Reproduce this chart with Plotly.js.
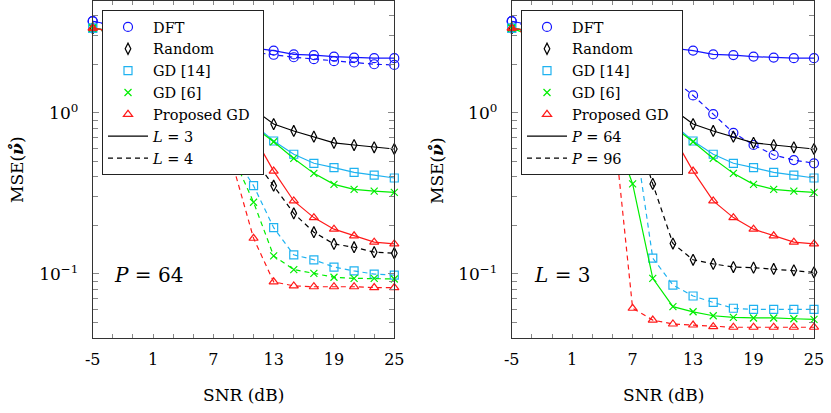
<!DOCTYPE html>
<html><head><meta charset="utf-8">
<script src="https://cdn.plot.ly/plotly-3.0.1.min.js"></script>
<style>html,body{margin:0;padding:0;background:#fff}#plot{width:831px;height:413px}</style>
</head><body><div id="plot"></div>
<script>
// SNR (dB)
const snr = [-5,-3,-1,1,3,5,7,9,11,13,15,17,19,21,23,25];
const xTickVals = [-5,1,7,13,19,25];
const xTickText = ['-5','1','7','13','19','25'];
const yTickVals = [0.1, 1];
const yTickText = ['10<sup>−1</sup>','10<sup>0</sup>'];
const yMinorVals = [0.05,0.06,0.07,0.08,0.09,0.2,0.3,0.4,0.5,0.6,0.7,0.8,0.9,2,3,4];

// P = 64, L = 3 (solid, shared by both panels)
const dftP64L3    = [3.7,3.5,3.3,3.1,2.95,2.8,2.7,2.6,2.52,2.43,2.30,2.28,2.23,2.20,2.18,2.18];
const randomP64L3 = [3.35,3.2,3.0,2.8,2.5,2.2,1.8,1.45,1.05,0.85,0.77,0.71,0.65,0.63,0.61,0.595];
const gd14P64L3   = [3.35,3.2,3.0,2.75,2.45,2.1,1.7,1.3,0.85,0.667,0.552,0.485,0.456,0.426,0.41,0.393];
const gd6P64L3    = [3.35,3.2,3.0,2.75,2.45,2.1,1.7,1.3,0.82,0.66,0.52,0.42,0.359,0.334,0.326,0.32];
const propP64L3   = [3.35,3.2,3.0,2.75,2.4,2.0,1.55,1.1,0.72,0.434,0.283,0.223,0.189,0.172,0.157,0.153];

// P = 64, L = 4 (dashed, left panel)
const dftL4    = [3.7,3.45,3.2,3.0,2.8,2.65,2.55,2.45,2.37,2.29,2.21,2.15,2.09,2.05,2.0,1.98];
const randomL4 = [3.35,3.1,2.8,2.4,2.0,1.6,1.2,0.8,0.52,0.352,0.237,0.181,0.153,0.146,0.136,0.134];
const gd14L4   = [3.35,3.1,2.8,2.4,1.95,1.5,1.05,0.55,0.352,0.193,0.131,0.122,0.11,0.104,0.0995,0.098];
const gd6L4    = [3.35,3.1,2.8,2.4,1.9,1.45,1.0,0.53,0.278,0.129,0.106,0.1005,0.095,0.0936,0.0936,0.0927];
const propL4   = [3.35,3.1,2.75,2.3,1.8,1.3,0.85,0.46,0.166,0.089,0.084,0.083,0.083,0.083,0.082,0.082];

// P = 96, L = 3 (right panel)
const dftP96    = [3.7,3.4,3.1,2.9,2.7,2.5,2.3,2.05,1.62,1.28,0.98,0.75,0.63,0.546,0.508,0.485];
const randomP96 = [3.35,3.1,2.8,2.5,2.1,1.6,0.9,0.361,0.154,0.122,0.115,0.11,0.109,0.107,0.105,0.102];
const gd14P96   = [3.35,3.1,2.8,2.4,1.9,1.4,0.9,0.125,0.085,0.0727,0.0663,0.061,0.060,0.060,0.060,0.060];
const gd6P96    = [3.35,3.0,2.6,2.1,1.5,0.8,0.361,0.0936,0.0624,0.058,0.0548,0.0536,0.0531,0.0531,0.0525,0.052];
const propP96   = [3.35,3.0,2.6,2.1,1.6,1.0,0.061,0.0515,0.0487,0.048,0.0469,0.0465,0.0465,0.0465,0.0465,0.0465];

const methods = ['DFT','Random','GD [14]','GD [6]','Proposed GD'];
const styles = {
  'DFT':        {color:'#1515ff', symbol:'circle-open', size:9},
  'Random':     {color:'#000000', symbol:'diamond-tall-open', size:8},
  'GD [14]':    {color:'#1fb2f0', symbol:'square-open', size:8},
  'GD [6]':     {color:'#00ee00', symbol:'x-thin-open', size:7},
  'Proposed GD':{color:'#ff1a1a', symbol:'triangle-up-open', size:8}
};
const DASH = '5px,4px';
const FONT = "DejaVu Serif";

function tr(name, y, dash, xa, ya){
  const s = styles[name];
  return {x:snr, y:y, type:'scatter', mode:'lines+markers', xaxis:xa, yaxis:ya,
    showlegend:false, cliponaxis:false, name:name,
    line:{color:s.color, width:1.2, dash:dash},
    marker:{symbol:s.symbol, size:s.size, color:s.color, line:{color:s.color, width:1.2}}};
}

const traces = [];
const leftSolid = [dftP64L3, randomP64L3, gd14P64L3, gd6P64L3, propP64L3];
const leftDash  = [dftL4, randomL4, gd14L4, gd6L4, propL4];
const rightDash = [dftP96, randomP96, gd14P96, gd6P96, propP96];
methods.forEach((m,i)=>{
  traces.push(tr(m, leftSolid[i], 'solid', 'x', 'y'));
  traces.push(tr(m, leftDash[i], DASH, 'x', 'y'));
  traces.push(tr(m, leftSolid[i], 'solid', 'x2', 'y2'));
  // GD [6] P=96 curve is drawn solid in the reference
  traces.push(tr(m, rightDash[i], m==='GD [6]' ? 'solid' : DASH, 'x2', 'y2'));
});

function legendEntries(lg, xa, ya, lab1, lab2){
  methods.forEach(m=>{
    const s = styles[m];
    // trailing no-break space only widens the legend box
    const label = m === 'Proposed GD' ? m + '\u00a0\u2009' : m;
    traces.push({x:[null], y:[null], type:'scatter', mode:'markers', xaxis:xa, yaxis:ya,
      name:label, legend:lg,
      marker:{symbol:s.symbol, size:s.size, color:s.color, line:{color:s.color, width:1.2}}});
  });
  traces.push({x:[null], y:[null], type:'scatter', mode:'lines', xaxis:xa, yaxis:ya,
    name:lab1, legend:lg, line:{color:'#000', width:1.2}});
  traces.push({x:[null], y:[null], type:'scatter', mode:'lines', xaxis:xa, yaxis:ya,
    name:lab2, legend:lg, line:{color:'#000', width:1.2, dash:DASH}});
}
legendEntries('legend','x','y','<i>L</i> = 3','<i>L</i> = 4');
legendEntries('legend2','x2','y2','<i>P</i> = 64','<i>P</i> = 96');

const W = 831, H = 413, MT = 1, MB = 75;
const PH = H - MT - MB;
function px2x(p){ return p / W; }
function py2y(p){ return (H - MB - p) / PH; }

function xAxis(dom, anchor){
  return {domain:dom, anchor:anchor, range:[-5,25], tickmode:'array', tickvals:xTickVals, ticktext:xTickText,
    ticks:'inside', ticklen:4, tickwidth:1, tickcolor:'#888', showgrid:false, zeroline:false,
    showline:true, linecolor:'#333', linewidth:1, mirror:'allticks',
    tickfont:{family:FONT, size:16, color:'#000'}, ticklabelstandoff:7,
    minor:{tickmode:'array', tickvals:[-3,-1,3,5,9,11,15,17,21,23], ticks:'inside', ticklen:4, tickcolor:'#888', tickwidth:1}};
}
function yAxis(anchor){
  return {anchor:anchor, type:'log', range:[-1.3994, 0.6938], tickmode:'array', tickvals:yTickVals, ticktext:yTickText,
    ticks:'inside', ticklen:6, tickwidth:1, tickcolor:'#888', showgrid:false, zeroline:false,
    showline:true, linecolor:'#333', linewidth:1, mirror:'allticks',
    tickfont:{family:FONT, size:17, color:'#000'}, ticklabelstandoff:10,
    minor:{tickmode:'array', tickvals:yMinorVals, ticks:'inside', ticklen:5, tickcolor:'#888', tickwidth:1}};
}

const legendCommon = {bgcolor:'#fff', bordercolor:'#222', borderwidth:1,
  font:{family:FONT, size:14.5, color:'#000'}, xanchor:'left', yanchor:'top',
  tracegroupgap:0, itemwidth:40, itemclick:false};

const layout = {
  width:W, height:H, margin:{l:0, r:0, t:MT, b:MB}, paper_bgcolor:'#fff', plot_bgcolor:'#fff',
  font:{family:FONT, color:'#000'},
  xaxis: xAxis([92.7/W, 394.3/W], 'y'),
  yaxis: yAxis('x'),
  xaxis2: xAxis([511.7/W, 814/W], 'y2'),
  yaxis2: yAxis('x2'),
  legend: Object.assign({x:px2x(102), y:py2y(10)}, legendCommon),
  legend2: Object.assign({x:px2x(521), y:py2y(10)}, legendCommon),
  annotations:[
    {xref:'paper', yref:'paper', x:px2x(243.5), y:py2y(395), text:'SNR (dB)', showarrow:false, font:{family:FONT, size:17}, xanchor:'center', yanchor:'middle'},
    {xref:'paper', yref:'paper', x:px2x(663), y:py2y(395), text:'SNR (dB)', showarrow:false, font:{family:FONT, size:17}, xanchor:'center', yanchor:'middle'},
    {xref:'paper', yref:'paper', x:px2x(17), y:py2y(170), text:'MSE(<b><i>ν̊</i></b>)', textangle:-90, showarrow:false, font:{family:FONT, size:17}, xanchor:'center', yanchor:'middle'},
    {xref:'paper', yref:'paper', x:px2x(437), y:py2y(170), text:'MSE(<b><i>ν̊</i></b>)', textangle:-90, showarrow:false, font:{family:FONT, size:17}, xanchor:'center', yanchor:'middle'},
    {xref:'paper', yref:'paper', x:px2x(148), y:py2y(275), text:'<i>P</i> = 64', showarrow:false, font:{family:FONT, size:20}, xanchor:'center', yanchor:'middle'},
    {xref:'paper', yref:'paper', x:px2x(561.5), y:py2y(275), text:'<i>L</i> = 3', showarrow:false, font:{family:FONT, size:20}, xanchor:'center', yanchor:'middle'}
  ]
};

Plotly.newPlot('plot', traces, layout, {staticPlot:true, displayModeBar:false});
</script></body></html>
